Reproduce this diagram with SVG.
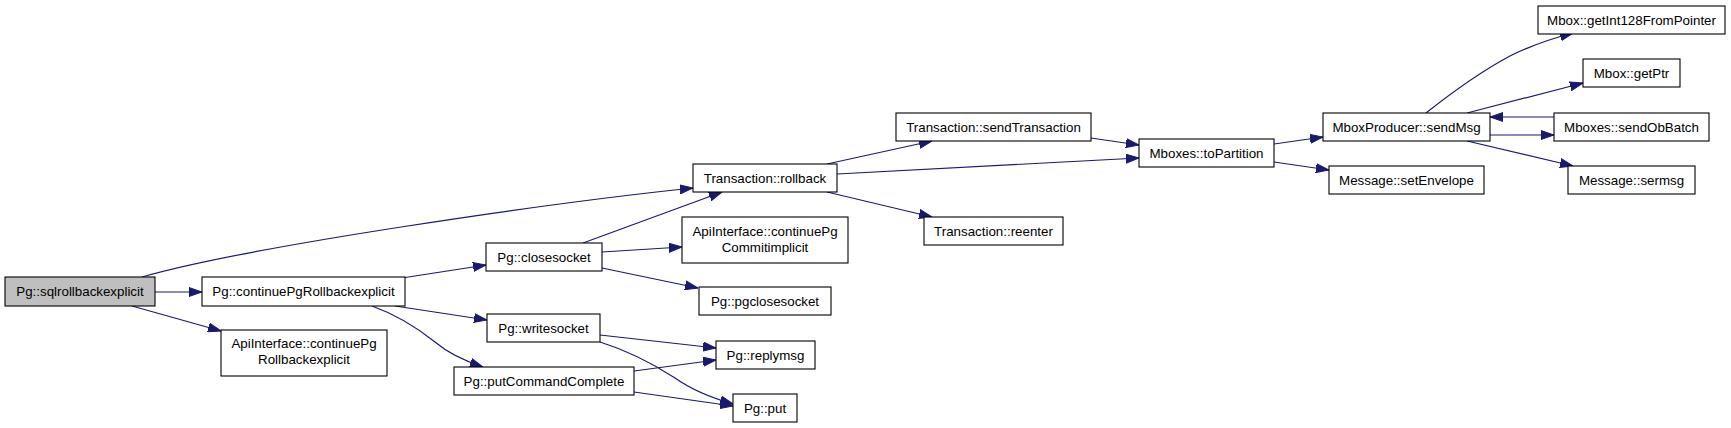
<svg xmlns="http://www.w3.org/2000/svg" width="1731" height="428" viewBox="0 0 1731 428">
<defs>
<style>
.node rect{fill:#ffffff;stroke:#000000;stroke-width:1.1}
.node.root rect{fill:#bfbfbf}
.node text{font-family:"Liberation Sans",Arial,Helvetica,sans-serif;font-size:13.33px;fill:#000000;text-anchor:middle}
.edges path{fill:none;stroke:#191970;stroke-width:1.2;marker-end:url(#ah)}
</style>
<marker id="ah" markerUnits="userSpaceOnUse" markerWidth="13" markerHeight="10" viewBox="0 0 13 10" refX="13" refY="5" orient="auto">
<path d="M0,0.5 L13,5 L0,9.5 z" fill="#191970" stroke="#191970" stroke-width="1"/>
</marker>
</defs>
<rect x="0" y="0" width="1731" height="428" fill="#ffffff"/>
<g id="edges" class="edges">
<path d="M142,277 C250,246 550,203 693,188"/>
<path d="M155,292 L202,292"/>
<path d="M132,306 L221,331"/>
<path d="M402,278 L486,265"/>
<path d="M395,306 L487,320"/>
<path d="M372,306 C400,316 420,330 435,342 C448,353 462,360 483,367"/>
<path d="M583,243 L722,192"/>
<path d="M602,252 L682,247"/>
<path d="M602,268 L698,288"/>
<path d="M600,335 L716,348"/>
<path d="M600,342 C632,352 655,365 675,378 C692,390 712,398 733,404"/>
<path d="M634,371 L716,360"/>
<path d="M634,392 L733,406"/>
<path d="M827,164 L932,141"/>
<path d="M837,174 L1139,158"/>
<path d="M827,192 L932,217"/>
<path d="M1091,138 L1139,145"/>
<path d="M1274,144 L1323,137"/>
<path d="M1274,162 L1329,170"/>
<path d="M1426,113 C1450,94 1480,72 1510,56 C1530,46 1550,39 1573,33"/>
<path d="M1467,113 L1583,83"/>
<path d="M1554,117 L1490,117"/>
<path d="M1490,135 L1554,135"/>
<path d="M1467,141 L1573,166"/>
</g>
<g id="n_sqlrollbackexplicit" class="node root"><rect x="5" y="277" width="150" height="29"/><text x="80" y="296">Pg::sqlrollbackexplicit</text></g>
<g id="n_continuePgRollbackexplicit" class="node"><rect x="202" y="277" width="203" height="29"/><text x="303.5" y="296">Pg::continuePgRollbackexplicit</text></g>
<g id="n_api_rollback" class="node"><rect x="221" y="330" width="166" height="46"/><text x="304" y="348">ApiInterface::continuePg</text><text x="304" y="364">Rollbackexplicit</text></g>
<g id="n_rollback" class="node"><rect x="693" y="164" width="144" height="28"/><text x="765" y="182.5">Transaction::rollback</text></g>
<g id="n_closesocket" class="node"><rect x="486" y="243" width="116" height="28"/><text x="544" y="261.5">Pg::closesocket</text></g>
<g id="n_api_commit" class="node"><rect x="682" y="217" width="166" height="46"/><text x="765" y="236">ApiInterface::continuePg</text><text x="765" y="252">Commitimplicit</text></g>
<g id="n_pgclosesocket" class="node"><rect x="699" y="287" width="132" height="28"/><text x="765" y="305.5">Pg::pgclosesocket</text></g>
<g id="n_writesocket" class="node"><rect x="487" y="314" width="113" height="28"/><text x="543.5" y="332.5">Pg::writesocket</text></g>
<g id="n_replymsg" class="node"><rect x="716" y="341" width="99" height="28"/><text x="765.5" y="359.5">Pg::replymsg</text></g>
<g id="n_putCommandComplete" class="node"><rect x="454" y="367" width="180" height="28"/><text x="544" y="385.5">Pg::putCommandComplete</text></g>
<g id="n_put" class="node"><rect x="733" y="394" width="64" height="28"/><text x="765" y="412.5">Pg::put</text></g>
<g id="n_sendTransaction" class="node"><rect x="896" y="113" width="195" height="28"/><text x="993.5" y="131.5">Transaction::sendTransaction</text></g>
<g id="n_reenter" class="node"><rect x="924" y="217" width="139" height="28"/><text x="993.5" y="235.5">Transaction::reenter</text></g>
<g id="n_toPartition" class="node"><rect x="1139" y="139" width="135" height="28"/><text x="1206.5" y="157.5">Mboxes::toPartition</text></g>
<g id="n_sendMsg" class="node"><rect x="1323" y="113" width="167" height="28"/><text x="1406.5" y="131.5">MboxProducer::sendMsg</text></g>
<g id="n_setEnvelope" class="node"><rect x="1329" y="166" width="155" height="28"/><text x="1406.5" y="184.5">Message::setEnvelope</text></g>
<g id="n_getInt128FromPointer" class="node"><rect x="1538" y="6" width="187" height="28"/><text x="1631.5" y="24.5">Mbox::getInt128FromPointer</text></g>
<g id="n_getPtr" class="node"><rect x="1583" y="59" width="97" height="28"/><text x="1631.5" y="77.5">Mbox::getPtr</text></g>
<g id="n_sendObBatch" class="node"><rect x="1554" y="113" width="155" height="28"/><text x="1631.5" y="131.5">Mboxes::sendObBatch</text></g>
<g id="n_sermsg" class="node"><rect x="1568" y="166" width="127" height="28"/><text x="1631.5" y="184.5">Message::sermsg</text></g>
</svg>
